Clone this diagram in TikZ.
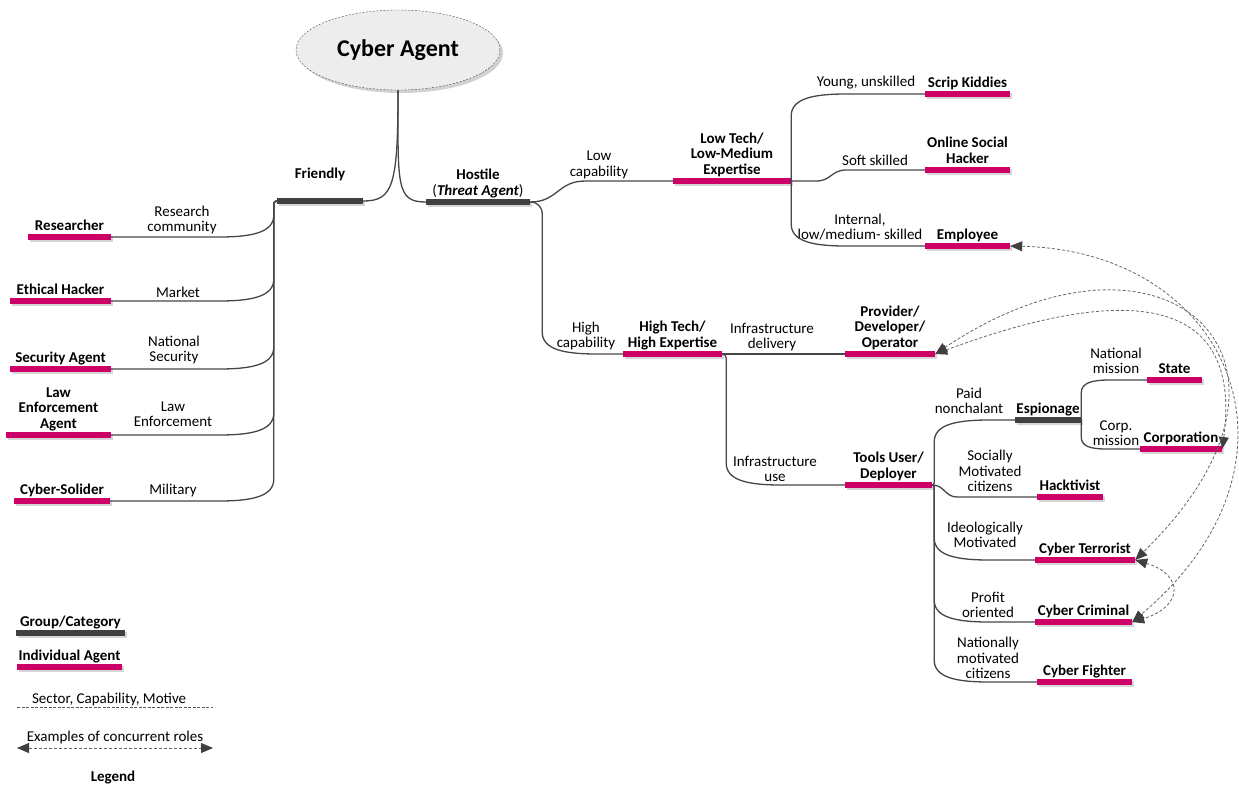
\documentclass[tikz,border=0pt]{standalone}
\usepackage{fontspec}
\setmainfont{Carlito}
\usetikzlibrary{arrows.meta,shapes.geometric,shadows,calc}

\definecolor{agentred}{RGB}{204,0,102}
\definecolor{groupgray}{RGB}{64,64,64}
\definecolor{linkgray}{RGB}{70,70,70}

\begin{document}
\begin{tikzpicture}[
	x               = 1pt,
	y               = -1pt,
	font            = \fontsize{15}{15.5}\selectfont,
	conn/.style     = {draw=linkgray, line width=1.3pt},
	agentbar/.style = {fill=agentred, inner sep=0pt, minimum height=5.5pt,
	                   drop shadow={shadow xshift=2pt, shadow yshift=-2pt, fill=black!16, opacity=1}},
	grpbar/.style   = {agentbar, fill=groupgray},
	lbl/.style      = {font=\fontsize{15}{15.5}\selectfont\bfseries, align=center,
	                   inner sep=1pt, execute at end node=\vphantom{gy}},
	sect/.style     = {align=center, inner sep=0pt},
	concur/.style   = {draw=black!60, line width=0.8pt, dash pattern=on 3pt off 2pt,
	                   {Triangle[length=12pt,width=10pt,color=black!75]}-{Triangle[length=12pt,width=10pt,color=black!75]}},
	bv/.store in    = \branchv, bv = 22,
	bh/.store in    = \branchh, bh = 55,
	branch/.style   = {to path={
	    let \p1 = (\tikztostart), \p2 = (\tikztotarget),
	        \n1 = {sign(\x2-\x1)}, \n2 = {sign(\y2-\y1)} in
	    .. controls ({\x1+\n1*#1*0.6},\y1) and ({\x1+\n1*#1},{\y1+\n2*#1*0.4})
	    .. ({\x1+\n1*#1},{\y1+\n2*#1})
	    -- ({\x1+\n1*#1},{\y2-\n2*\branchv})
	    .. controls ({\x1+\n1*#1},{\y2-\n2*\branchv*0.2}) and ({\x1+\n1*(#1+\branchh*0.4)},\y2)
	    .. ({\x1+\n1*(#1+\branchh)},\y2)
	    -- (\tikztotarget)}},
	branch/.default = 4,
	sbranch/.style 2 args = {to path={
	    let \p1 = (\tikztostart), \p2 = (\tikztotarget) in
	    -- ({\x1+#1},\y1)
	    .. controls ({\x1+#1+#2*0.5},\y1) and ({\x1+#1+#2*0.5},\y2)
	    .. ({\x1+#1+#2},\y2)
	    -- (\tikztotarget)}}]
	\useasboundingbox (0,0) rectangle (1239,785);

	% root
	\node[ellipse, draw=black!70, dash pattern=on 2pt off 1.5pt, fill=black!7,
	      minimum width=204pt, minimum height=80pt,
	      drop shadow={shadow xshift=3pt, shadow yshift=-3pt, fill=black!18, opacity=1},
	      font=\fontsize{24}{28}\selectfont\bfseries] (cyber) at (398,50) {Cyber Agent};

	% groups
	\node[grpbar, minimum width=86pt, label={[lbl, label distance=15.5pt]above:Friendly}] (friendly) at (320,201) {};
	\node[grpbar, minimum width=104pt, label={[lbl]above:{Hostile\\\textmd{(}\textit{Threat Agent}\textmd{)}}}] (hostile) at (478,202) {};

	% friendly agents
	\node[agentbar, minimum width=83pt, label={[lbl]above:Researcher}] (researcher) at (69.5,237) {};
	\node[agentbar, minimum width=101pt, label={[lbl]above:Ethical Hacker}] (ethical) at (60.5,301) {};
	\node[agentbar, minimum width=101pt, label={[lbl]above:Security Agent}] (security) at (60.5,369) {};
	\node[agentbar, minimum width=105pt, label={[lbl]above:{Law\\Enforcement\\Agent}}] (lawagent) at (58.5,435) {};
	\node[agentbar, minimum width=96pt, label={[lbl]above:Cyber-Solider}] (soldier) at (62,501) {};

	% hostile agents
	\node[agentbar, minimum width=118pt, label={[lbl]above:{Low Tech/\\Low-Medium\\Expertise}}] (lowtech) at (732,181) {};
	\node[agentbar, minimum width=85pt, label={[lbl]above:Scrip Kiddies}] (kiddies) at (967.5,94) {};
	\node[agentbar, minimum width=85pt, label={[lbl]above:{Online Social\\Hacker}}] (social) at (967.5,170) {};
	\node[agentbar, minimum width=85pt, label={[lbl]above:Employee}] (employee) at (967.5,246) {};
	\node[agentbar, minimum width=99pt, label={[lbl]above:{High Tech/\\High Expertise}}] (hightech) at (672.5,354) {};
	\node[agentbar, minimum width=90pt, label={[lbl]above:{Provider/\\Developer/\\Operator}}] (provider) at (890,354) {};
	\node[agentbar, minimum width=87pt, label={[lbl]above:{Tools User/\\Deployer}}] (tools) at (888.5,485) {};
	\node[grpbar, minimum width=66pt, label={[lbl]above:Espionage}] (espionage) at (1048,420) {};
	\node[agentbar, minimum width=55pt, label={[lbl]above:State}] (state) at (1174.5,380) {};
	\node[agentbar, minimum width=82pt, label={[lbl]above:Corporation}] (corporation) at (1181,449) {};
	\node[agentbar, minimum width=66pt, label={[lbl]above:Hacktivist}] (hacktivist) at (1070,497) {};
	\node[agentbar, minimum width=100pt, label={[lbl]above:Cyber Terrorist}] (terrorist) at (1085,560) {};
	\node[agentbar, minimum width=97pt, label={[lbl]above:Cyber Criminal}] (criminal) at (1083.5,622) {};
	\node[agentbar, minimum width=95pt, label={[lbl]above:Cyber Fighter}] (fighter) at (1084.5,682) {};

	% sectors, capabilities, motives
	\node[sect] (rescomm) at (182,220) {Research\\community};
	\node[sect] (market) at (178,292) {Market};
	\node[sect] (natsec) at (174,350) {National\\Security};
	\node[sect] (lawenf) at (173,414) {Law\\Enforcement};
	\node[sect] (military) at (173,490) {Military};
	\node[sect] (lowcap) at (599,165) {Low\\capability};
	\node[sect] (highcap) at (586,336) {High\\capability};
	\node[sect] (young) at (866,83) {Young, unskilled};
	\node[sect] (soft) at (875,160) {Soft skilled};
	\node[sect] (internal) at (860,227) {Internal,\\low/medium- skilled};
	\node[sect] (delivery) at (772,337) {Infrastructure\\delivery};
	\node[sect] (infuse) at (775,469) {Infrastructure\\use};
	\node[sect] (paid) at (969,401) {Paid\\nonchalant};
	\node[sect] (natmis) at (1116,361) {National\\mission};
	\node[sect] (corpmis) at (1116,433) {Corp.\\mission};
	\node[sect] (socially) at (990,471) {Socially\\Motivated\\citizens};
	\node[sect] (ideolog) at (985,535) {Ideologically\\Motivated};
	\node[sect] (profit) at (988,605) {Profit\\oriented};
	\node[sect] (nationally) at (988,658) {Nationally\\motivated\\citizens};

	% tree
	\draw[conn] (cyber.south) .. controls +(0,95) and +(30,0) .. (friendly.east);
	\draw[conn] (cyber.south) .. controls +(0,95) and +(-30,0) .. (hostile.west);
	\foreach \leaf in {researcher, ethical, security, lawagent, soldier}
	  \draw[conn] (friendly.west) to[branch=3] (\leaf.east);
	\draw[conn] (hostile.east) to[sbranch={0}{55}] (lowtech.west);
	\draw[conn] (hostile.east) to[branch=12] (hightech.west);
	\draw[conn] (lowtech.east) to[branch=0] (kiddies.west);
	\draw[conn] (lowtech.east) to[sbranch={25}{30}] (social.west);
	\draw[conn] (lowtech.east) to[branch=0] (employee.west);
	\draw[conn] (hightech.east) -- (provider.west);
	\draw[conn] (hightech.east) to[branch=4] (tools.west);
	\draw[conn] (tools.east) to[branch=2] (espionage.west);
	\draw[conn] (tools.east) to[sbranch={0}{25}] (hacktivist.west);
	\foreach \leaf in {terrorist, criminal, fighter}
	  \draw[conn] (tools.east) to[branch=2] (\leaf.west);
	\draw[conn] (espionage.east) to[branch=0, bv=13, bh=28] (state.west);
	\draw[conn] (espionage.east) to[branch=0, bv=12, bh=25] (corporation.west);

	% concurrent roles
	\draw[concur] (employee.east) .. controls +(220,5) and +(190,-160) .. (criminal.east);
	\draw[concur] (provider.east) .. controls +(200,-74) and +(20,-150) .. (corporation.east);
	\draw[concur] (provider.east) .. controls +(230,-154) and +(205,-200) .. (terrorist.east);
	\draw[concur] (terrorist.east) .. controls +(50,15) and +(50,-15) .. (criminal.east);

	% legend
	\node[grpbar, minimum width=109pt, label={[lbl]above:Group/Category}] (groupkey) at (70.5,633) {};
	\node[agentbar, minimum width=105pt, label={[lbl]above:Individual Agent}] (agentkey) at (69.5,667) {};
	\coordinate (sectorA) at (17,707);
	\coordinate (sectorB) at (213,707);
	\draw[draw=black!65, line width=0.8pt, dash pattern=on 3pt off 1.5pt] (sectorA)
	  -- node[pos=0.47, above, inner sep=0.5pt, text=black] (sectorkey) {Sector, Capability, Motive} (sectorB);
	\coordinate (rolesA) at (17,748);
	\coordinate (rolesB) at (213,748);
	\draw[concur] (rolesA) -- node[above, inner sep=4pt] (roleskey) {Examples of concurrent roles} (rolesB);
	\node[lbl] (legend) at (113,777) {Legend};
\end{tikzpicture}
\end{document}
